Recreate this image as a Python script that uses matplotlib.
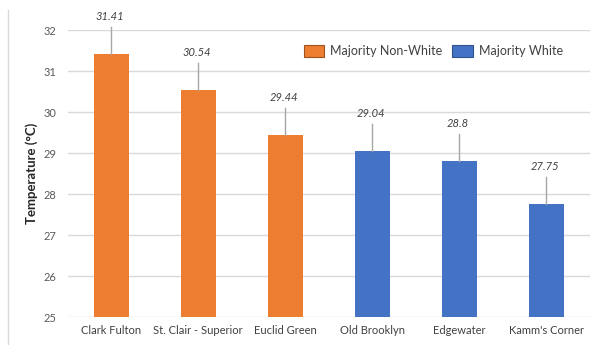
import matplotlib
matplotlib.use("Agg")
import matplotlib.pyplot as plt
from matplotlib.patches import Patch
from matplotlib.lines import Line2D

plt.rcParams['font.family'] = ['Lato', 'DejaVu Sans']

neighborhoods = ["Clark Fulton", "St. Clair - Superior", "Euclid Green",
                 "Old Brooklyn", "Edgewater", "Kamm's Corner"]
temperatures = [31.41, 30.54, 29.44, 29.04, 28.8, 27.75]
value_labels = ["31.41", "30.54", "29.44", "29.04", "28.8", "27.75"]
groups = ["Majority Non-White", "Majority Non-White", "Majority Non-White",
          "Majority White", "Majority White", "Majority White"]
y_ticks = [25, 26, 27, 28, 29, 30, 31, 32]

group_colors = {"Majority Non-White": "#ED7D31", "Majority White": "#4472C4"}
legend_edges = {"Majority Non-White": "#A0521F", "Majority White": "#2F528F"}

fig = plt.figure(figsize=(6.0, 3.45), dpi=100)
ax = fig.add_axes([0.113, 0.081, 0.870, 0.832])

x = list(range(len(neighborhoods)))
colors = [group_colors[g] for g in groups]
ax.bar(x, [t - 25 for t in temperatures], bottom=25, width=0.4,
       color=colors, zorder=3)

ax.set_ylim(25, 32)
ax.set_xlim(-0.5, len(neighborhoods) - 0.5)
ax.set_yticks(y_ticks)
ax.set_yticklabels([str(t) for t in y_ticks])
ax.set_xticks(x)
ax.set_xticklabels(neighborhoods)
ax.tick_params(axis='both', length=0, labelsize=8, colors='#595959', pad=6)
ax.tick_params(axis='y', pad=8)
for lab in ax.get_xticklabels():
    lab.set_color('#404040')
ax.grid(axis='y', color='#D9D9D9', linewidth=1.0, zorder=0)
for s in ax.spines.values():
    s.set_visible(False)

ax.set_ylabel("Temperature (°C)", fontsize=9.5, fontweight='bold',
              color='#262626', labelpad=4)

# value labels with leader lines
offset = 0.78
for xi, t, lab in zip(x, temperatures, value_labels):
    ax.add_line(Line2D([xi, xi], [t, t + offset - 0.12], color='#A6A6A6',
                       linewidth=1.0, zorder=4, clip_on=False))
    ax.text(xi - 0.02, t + offset, lab, ha='center', va='bottom', fontsize=8,
            style='italic', color='#404040', clip_on=False)

handles = [Patch(facecolor=group_colors[g], edgecolor=legend_edges[g],
                 linewidth=0.8, label=g)
           for g in ["Majority Non-White", "Majority White"]]
ax.legend(handles=handles, loc='center', bbox_to_anchor=(0.70, 0.927),
          ncol=2, frameon=False, fontsize=9, handlelength=1.65,
          handleheight=1.15, columnspacing=0.8, handletextpad=0.45,
          labelcolor='#404040')

# light frame line along the left edge
fig.add_artist(Line2D([8 / 600, 8 / 600], [0.0, 1 - 10 / 345],
                      transform=fig.transFigure, color='#D9D9D9',
                      linewidth=1.0))

fig.savefig("out.png", dpi=100, facecolor='white')
